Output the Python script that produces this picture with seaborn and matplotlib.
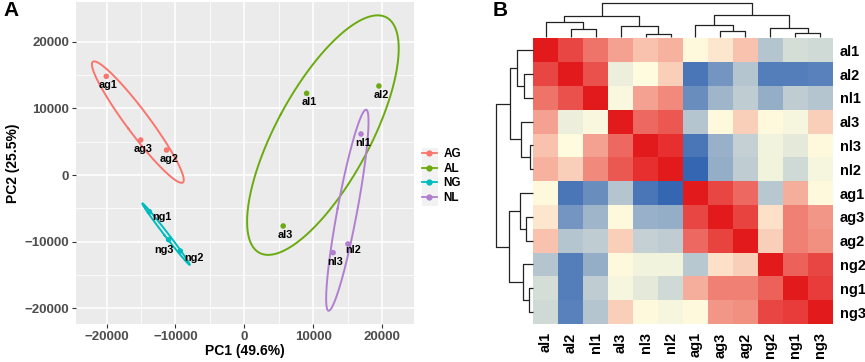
import numpy as np
import pandas as pd
import matplotlib
matplotlib.use("Agg")
import matplotlib.pyplot as plt
from matplotlib.colors import LinearSegmentedColormap
from matplotlib.lines import Line2D
from matplotlib.patches import Rectangle
import seaborn as sns

# ---------------- data: PCA (panel A) ----------------
samples = ["ag1", "ag2", "ag3", "al1", "al2", "al3", "ng1", "ng2", "ng3", "nl1", "nl2", "nl3"]
groups = ["AG", "AG", "AG", "AL", "AL", "AL", "NG", "NG", "NG", "NL", "NL", "NL"]
pc1 = [-20050, -11300, -15050, 9050, 19550, 5650, -13800, -9300, -11000, 16950, 15050, 12900]
pc2 = [14800, 3750, 5250, 12250, 13350, -7650, -5500, -11400, -9700, 6150, -10350, -11650]
group_order = ["AG", "AL", "NG", "NL"]
group_colors = ["#F8766D", "#6BAA10", "#00BBBE", "#B27FD0"]
x_title = "PC1 (49.6%)"
y_title = "PC2 (25.5%)"
major_ticks = [-20000, -10000, 0, 10000, 20000]
minor_ticks = [-15000, -5000, 5000, 15000]

# ---------------- data: correlation heatmap (panel B) ----------------
hm_labels = ["al1", "al2", "nl1", "al3", "nl3", "nl2", "ag1", "ag3", "ag2", "ng2", "ng1", "ng3"]
corr = [
    [1.00, 0.80, 0.60, 0.40, 0.25, 0.33, 0.02, 0.10, 0.25, -0.35, -0.20, -0.22],
    [0.80, 1.00, 0.75, -0.08, 0.00, 0.20, -0.85, -0.65, -0.35, -0.80, -0.80, -0.78],
    [0.60, 0.75, 1.00, -0.03, 0.40, 0.50, -0.70, -0.45, -0.30, -0.50, -0.30, -0.35],
    [0.40, -0.08, -0.03, 1.00, 0.65, 0.72, -0.35, 0.02, 0.20, 0.02, -0.04, 0.20],
    [0.25, 0.00, 0.40, 0.65, 1.00, 0.90, -0.85, -0.48, -0.28, -0.06, -0.12, 0.02],
    [0.33, 0.20, 0.50, 0.72, 0.90, 1.00, -0.95, -0.50, -0.30, -0.06, -0.22, -0.04],
    [0.02, -0.85, -0.70, -0.35, -0.85, -0.95, 1.00, 0.80, 0.65, -0.33, 0.35, 0.02],
    [0.10, -0.65, -0.45, 0.02, -0.48, -0.50, 0.80, 1.00, 0.82, 0.12, 0.55, 0.45],
    [0.25, -0.35, -0.30, 0.20, -0.28, -0.30, 0.65, 0.82, 1.00, 0.20, 0.55, 0.48],
    [-0.35, -0.80, -0.50, 0.02, -0.06, -0.06, -0.33, 0.12, 0.20, 1.00, 0.68, 0.80],
    [-0.20, -0.80, -0.30, -0.04, -0.12, -0.22, 0.35, 0.55, 0.55, 0.68, 1.00, 0.85],
    [-0.22, -0.78, -0.35, 0.20, 0.02, -0.04, 0.02, 0.45, 0.48, 0.80, 0.85, 1.00],
]
# hierarchical clustering tree (merge k creates node "c{k}")
merge_left = ["al2", "nl3", "ag3", "ng1", "al1", "al3", "ag1", "ng2", "c4", "c6", "c8"]
merge_right = ["nl1", "nl2", "ag2", "ng3", "c0", "c1", "c2", "c3", "c5", "c7", "c9"]
merge_height = [0.23, 0.085, 0.175, 0.11, 0.43, 0.315, 0.35, 0.26, 0.63, 0.64, 1.00]

# ---------------- style ----------------
FONT = ["Liberation Sans", "DejaVu Sans"]
plt.rcParams["font.family"] = FONT
plt.rcParams["axes.unicode_minus"] = True
ELLIPSE_SCALE = 1.52
label_nudge = {"ng1": (9.0, -4.0), "ng3": (-3.0, -7.5), "ng2": (9.5, -5.0), "nl2": (4.0, -4.0)}
default_nudge = (1.5, -6.5)

W, H = 865, 362
fig = plt.figure(figsize=(W / 100, H / 100), dpi=100)

def fx(px):
    return px / W

def fy(py):
    return 1 - py / H

# ---------------- panel A ----------------
axA = fig.add_axes([fx(76), fy(324), fx(414) - fx(76), fy(2) - fy(324)])
axA.set_facecolor("#EBEBEB")
for s in axA.spines.values():
    s.set_visible(False)

df = pd.DataFrame({"sample": samples, "group": groups, "PC1": pc1, "PC2": pc2})
palette = dict(zip(group_order, group_colors))

# ellipses (normal-theory, scaled)
t = np.linspace(0, 2 * np.pi, 300)
for g in group_order:
    sub = df[df["group"] == g]
    xy = np.vstack([sub["PC1"].values, sub["PC2"].values]).astype(float)
    mu = xy.mean(axis=1)
    cov = np.cov(xy)
    vals, vecs = np.linalg.eigh(cov)
    circ = np.vstack([np.cos(t), np.sin(t)])
    pts = mu[:, None] + ELLIPSE_SCALE * vecs @ (np.sqrt(np.maximum(vals, 0))[:, None] * circ)
    axA.plot(pts[0], pts[1], color=palette[g], lw=1.4, zorder=2)

sns.scatterplot(data=df, x="PC1", y="PC2", hue="group", hue_order=group_order,
                palette=palette, s=16, edgecolor="none", legend=False, ax=axA, zorder=3)

axA.set_xlim(-24450, 24650)
axA.set_ylim(-22350, 25950)
axA.set_xticks(major_ticks)
axA.set_yticks(major_ticks)
axA.set_xticks(minor_ticks, minor=True)
axA.set_yticks(minor_ticks, minor=True)
fmt = [f"{v:d}".replace("-", "\u2212") for v in major_ticks]
axA.set_xticklabels(fmt, fontweight="bold")
axA.set_yticklabels(fmt, fontweight="bold")
axA.grid(which="major", color="white", lw=1.1, zorder=0)
axA.grid(which="minor", color="white", lw=0.55, zorder=0)
axA.set_axisbelow(True)
axA.tick_params(which="major", length=3, width=0.8, color="#333333",
                labelsize=9.5, labelcolor="#4D4D4D", pad=2)
axA.tick_params(which="minor", length=0)
axA.set_xlabel(x_title, fontsize=10, fontweight="bold", labelpad=1)
axA.set_ylabel(y_title, fontsize=10, fontweight="bold", labelpad=3)

for _, r in df.iterrows():
    dx, dy = label_nudge.get(r["sample"], default_nudge)
    axA.annotate(r["sample"], (r["PC1"], r["PC2"]), xytext=(dx, dy),
                 textcoords="offset points", ha="center", va="center",
                 fontsize=7.8, fontweight="bold", color="black", zorder=4)

# legend
fig.patches.append(Rectangle((fx(421.5), fy(206)), fx(437.5) - fx(421.5), fy(148) - fy(206),
                             transform=fig.transFigure, facecolor="#F2F2F2",
                             edgecolor="none", zorder=0))
handles = [Line2D([0], [0], color=c, lw=1.3, marker="o", markersize=3.5) for c in group_colors]
fig.legend(handles, group_order, loc="center left",
           bbox_to_anchor=(fx(421.5), fy(176)), frameon=False,
           handlelength=1.3, handletextpad=0.55, labelspacing=0.22,
           borderpad=0, borderaxespad=0,
           prop={"weight": "bold", "size": 8.5, "family": FONT})

fig.text(fx(3), fy(11), "A", fontsize=15, fontweight="bold", va="center", ha="left")

# ---------------- panel B ----------------
cmap = LinearSegmentedColormap.from_list("bwr_ly", ["#2A5FB0", "#FFFCE0", "#E31A1C"])
hx0, hx1, hy0, hy1 = 533.3, 832.7, 38.3, 324
axH = fig.add_axes([fx(hx0), fy(hy1), fx(hx1) - fx(hx0), fy(hy0) - fy(hy1)])
corr_df = pd.DataFrame(corr, index=hm_labels, columns=hm_labels)
sns.heatmap(corr_df, cmap=cmap, vmin=-1, vmax=1, cbar=False, ax=axH,
            xticklabels=True, yticklabels=True, linewidths=0)
axH.yaxis.tick_right()
axH.set_yticklabels(hm_labels, rotation=0, fontsize=10.5, fontweight="bold", ha="left")
axH.set_xticklabels(hm_labels, rotation=90, fontsize=10.5, fontweight="bold", va="top")
axH.tick_params(axis="y", length=0, pad=5)
axH.tick_params(axis="x", length=0, pad=6)
axH.set_xlabel("")
axH.set_ylabel("")

# dendrograms
def draw_dendro(ax, orient):
    pos = {lab: i + 0.5 for i, lab in enumerate(hm_labels)}
    hgt = {lab: 0.0 for lab in hm_labels}
    for k, (l, r, h) in enumerate(zip(merge_left, merge_right, merge_height)):
        a = [pos[l], pos[l], pos[r], pos[r]]
        b = [hgt[l], h, h, hgt[r]]
        if orient == "top":
            ax.plot(a, b, color="#222222", lw=0.9, clip_on=False, solid_capstyle="butt")
        else:
            ax.plot(b, a, color="#222222", lw=0.9, clip_on=False, solid_capstyle="butt")
        node = f"c{k}"
        pos[node] = (pos[l] + pos[r]) / 2
        hgt[node] = h
    ax.axis("off")

axC = fig.add_axes([fx(hx0), fy(36.7), fx(hx1) - fx(hx0), fy(3.3) - fy(36.7)])
draw_dendro(axC, "top")
axC.set_xlim(0, 12)
axC.set_ylim(0, 1.0)

axR = fig.add_axes([fx(496), fy(hy1), fx(hx0 - 0.5) - fx(496), fy(hy0) - fy(hy1)])
draw_dendro(axR, "left")
axR.set_ylim(12, 0)
axR.set_xlim(1.0, 0)

fig.text(fx(493), fy(11), "B", fontsize=15, fontweight="bold", va="center", ha="left")

fig.savefig("out.png", dpi=100)
